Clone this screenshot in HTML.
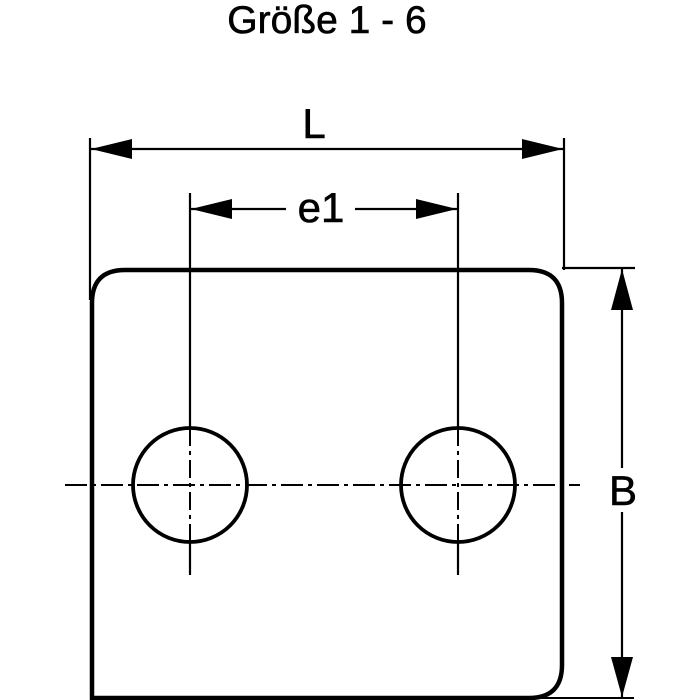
<!DOCTYPE html>
<html><head><style>body{margin:0;background:#fff}svg{display:block}</style></head><body>
<svg width="700" height="700" viewBox="0 0 700 700" xmlns="http://www.w3.org/2000/svg" font-family="Liberation Sans, Arial, sans-serif">
<rect width="700" height="700" fill="#fff"/>
<text x="327" y="33" font-size="39" text-anchor="middle" stroke="#000" stroke-width="0.6">Größe 1 - 6</text>
<!-- plate -->
<path d="M92,700 L92,303 Q92,270 125,270 L529,270 Q562,270 562,303 L562,665 Q562,698 529,698 L92,698" fill="none" stroke="#000" stroke-width="4.5"/>
<line x1="529" y1="698" x2="634" y2="698" stroke="#000" stroke-width="2"/>
<!-- L dimension -->
<line x1="90" y1="138" x2="90" y2="300" stroke="#000" stroke-width="2.2"/>
<line x1="564" y1="138" x2="564" y2="270" stroke="#000" stroke-width="2.2"/>
<line x1="90" y1="149" x2="564" y2="149" stroke="#000" stroke-width="2.2"/>
<polygon points="91,149 132,139 132,159" fill="#000"/>
<polygon points="563,149 522,139 522,159" fill="#000"/>
<text x="314" y="138" font-size="42" text-anchor="middle" stroke="#000" stroke-width="0.6">L</text>
<!-- e1 dimension -->
<line x1="190" y1="193" x2="190" y2="428" stroke="#000" stroke-width="2.2"/>
<line x1="190" y1="542" x2="190" y2="575" stroke="#000" stroke-width="2.2"/>
<line x1="190" y1="428" x2="190" y2="542" stroke="#000" stroke-width="2" stroke-dasharray="18,5,4,5"/>
<line x1="458" y1="193" x2="458" y2="428" stroke="#000" stroke-width="2.2"/>
<line x1="458" y1="542" x2="458" y2="575" stroke="#000" stroke-width="2.2"/>
<line x1="458" y1="428" x2="458" y2="542" stroke="#000" stroke-width="2" stroke-dasharray="18,5,4,5"/>
<line x1="190" y1="209" x2="286" y2="209" stroke="#000" stroke-width="2.2"/>
<line x1="355" y1="209" x2="458" y2="209" stroke="#000" stroke-width="2.2"/>
<polygon points="191,209 232,199 232,219" fill="#000"/>
<polygon points="457,209 416,199 416,219" fill="#000"/>
<text x="321" y="222" font-size="42" text-anchor="middle" stroke="#000" stroke-width="0.6">e1</text>
<!-- holes -->
<circle cx="190" cy="485" r="57" fill="none" stroke="#000" stroke-width="3.8"/>
<circle cx="458" cy="485" r="57" fill="none" stroke="#000" stroke-width="3.8"/>
<line x1="65" y1="485" x2="580" y2="485" stroke="#000" stroke-width="2" stroke-dasharray="22,5,4,5"/>
<!-- B dimension -->
<line x1="562" y1="268" x2="635" y2="268" stroke="#000" stroke-width="2.2"/>
<line x1="622" y1="268" x2="622" y2="468" stroke="#000" stroke-width="2.2"/>
<line x1="622" y1="512" x2="622" y2="698" stroke="#000" stroke-width="2.2"/>
<polygon points="622,269 611,310 633,310" fill="#000"/>
<polygon points="622,697 611,657 633,657" fill="#000"/>
<text x="623" y="505" font-size="42" text-anchor="middle" stroke="#000" stroke-width="0.6">B</text>
</svg>
</body></html>
